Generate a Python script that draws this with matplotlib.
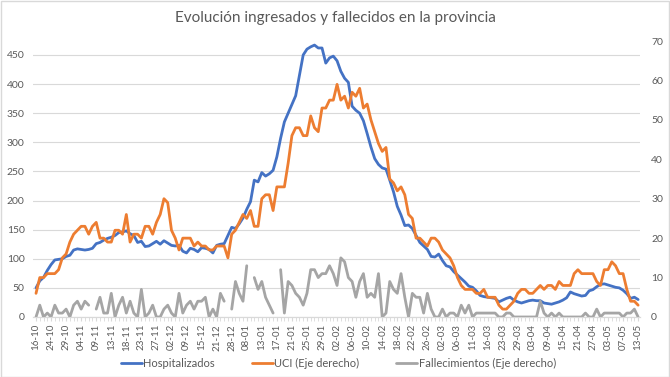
import matplotlib.pyplot as plt
import numpy as np
from matplotlib.patches import Rectangle

# Tick labels shown on the category axis (every 4th category)
tick_labels = [
  "16-10", "24-10", "29-10", "04-11", "09-11", "13-11", "18-11", "23-11",
  "27-11", "02-12", "09-12", "15-12", "21-12", "28-12", "08-01", "13-01",
  "17-01", "21-01", "25-01", "29-01", "02-02", "06-02", "10-02", "14-02",
  "18-02", "22-02", "26-02", "02-03", "06-03", "11-03", "16-03", "23-03",
  "29-03", "03-04", "09-04", "15-04", "21-04", "27-04", "03-05", "07-05",
  "13-05",
]

# Hospitalizados (left axis)
hospitalizados = [
  50, 62, 68, 80, 90, 98, 99, 100, 104, 106,
  115, 117, 116, 115, 116, 118, 126, 128, 132, 135,
  137, 140, 145, 146, 148, 143, 140, 128, 130, 121,
  122, 126, 130, 125, 131, 127, 123, 122, 123, 113,
  110, 118, 116, 112, 119, 118, 116, 110, 123, 125,
  126, 140, 154, 152, 160, 170, 185, 198, 235, 232,
  248, 242, 246, 252, 275, 307, 335, 350, 365, 380,
  415, 450, 460, 464, 467, 462, 462, 436, 445, 448,
  440, 422, 410, 403, 362, 355, 350, 337, 315, 292,
  272, 262, 256, 254, 235, 215, 190, 175, 157, 158,
  152, 140, 128, 122, 116, 104, 103, 108, 97, 88,
  86, 78, 72, 66, 60, 53, 51, 45, 37, 35,
  34, 33, 32, 26, 29, 32, 34, 29, 26, 24,
  26, 28, 29, 28, 28, 24, 23, 22, 24, 26,
  29, 33, 43, 40, 38, 36, 37, 45, 47, 52,
  56, 57, 55, 53, 51, 50, 46, 40, 32, 34,
  30,
]

# UCI (right axis)
uci = [
  6, 10, 10, 11, 11, 11, 12, 15, 16, 19,
  21, 22, 23, 23, 21, 23, 24, 20, 20, 19,
  19, 22, 22, 21, 26, 19, 21, 21, 20, 23,
  23, 21, 24, 26, 30, 29, 22, 20, 17, 20,
  20, 20, 18, 19, 18, 18, 17, 17, 18, 18,
  18, 15, 21, 22, 24, 26, 25, 27, 23, 23,
  30, 31, 31, 27, 33, 33, 33, 39, 46, 48,
  48, 46, 46, 51, 48, 47, 53, 53, 55, 55,
  59, 55, 56, 53, 57, 56, 58, 53, 54, 50,
  47, 44, 42, 43, 35, 34, 32, 33, 31, 26,
  25, 20, 20, 19, 18, 20, 20, 19, 17, 16,
  15, 13, 10, 8, 7, 7, 7, 6, 6, 7,
  5, 5, 5, 3, 2, 2, 3, 4, 6, 7,
  7, 6, 6, 7, 8, 7, 8, 8, 7, 9,
  8, 8, 8, 11, 12, 11, 11, 11, 11, 9,
  8, 12, 12, 14, 13, 11, 11, 7, 4, 4,
  3,
]

# Fallecimientos (right axis), gaps where no value was reported
fallecimientos = [
  0, 3, 0, 1, 0, 3, 1, 1, 2, 0,
  3, 4, 2, 4, 3, np.nan, 2, 5, 1, 1,
  6, 0, 3, 5, 1, 4, 1, 0, 7, 0,
  1, 3, 0, 0, 2, 3, 1, 0, 6, 1,
  3, 4, 2, 4, 4, 5, 0, 2, 0, 6,
  4, np.nan, 2, 9, 6, 4, 13, np.nan, 10, 7,
  9, 5, 3, 1, np.nan, 12, 1, 9, 8, 6,
  5, 3, 6, 12, 12, 10, 11, 11, 13, 11,
  8, 15, 14, 10, 9, 5, 9, 11, 5, 6,
  5, 11, 0, 1, 9, 7, 6, 11, 5, 0,
  6, 5, 5, 1, 6, 2, 0, 0, 2, 0,
  1, 1, 0, 3, 1, 3, 0, 1, 1, 1,
  1, 1, 1, 0, 0, 1, 1, 0, 0, 0,
  0, 0, 0, 0, 4, 1, 0, 1, 0, 1,
  0, 0, 0, 0, 0, 0, 1, 0, 0, 2,
  0, 1, 1, 1, 1, 1, 0, 1, 1, 2,
  0,
]

# Define colors
blue = "#4472C4"
orange = "#ED7D31"
grey = "#A5A5A5"
text_color = "#595959"
grid_color = "#D9D9D9"

plt.rcParams["font.family"] = ["Lato", "DejaVu Sans"]

x = np.arange(len(hospitalizados))

fig = plt.figure(figsize=(6.7, 3.77), dpi=100)
ax = fig.add_axes([33 / 670, 60 / 377, 607 / 670, 276 / 377])
ax2 = ax.twinx()

# Primary axis: hospitalised
ax.plot(x, hospitalizados, color=blue, lw=2.0, label="Hospitalizados", solid_capstyle="round")
ax.set_ylim(0, 474)
ax.set_yticks(np.arange(0, 451, 50))
ax.grid(axis="y", color=grid_color, lw=0.8)
ax.set_axisbelow(True)

# Secondary axis: ICU and deaths
ax2.plot(x, uci, color=orange, lw=2.0, label="UCI (Eje derecho)", solid_capstyle="round")
ax2.plot(x, fallecimientos, color=grey, lw=2.0, label="Fallecimientos (Eje derecho)", solid_capstyle="round")
ax2.set_ylim(0, 70)
ax2.set_yticks(np.arange(0, 71, 10))

ax.set_xlim(-0.8, len(x) - 0.5)
ax.set_xticks(x[::4])
ax.set_xticklabels(tick_labels, rotation=90)
ax.set_xticks(x, minor=True)

for a in (ax, ax2):
  for side in ("top", "left", "right"):
    a.spines[side].set_visible(False)
  a.spines["bottom"].set_color(grid_color)

ax.tick_params(axis="y", length=0, labelsize=7.5, colors=text_color, pad=6)
ax2.tick_params(axis="y", length=0, labelsize=7.5, colors=text_color, pad=8)
ax.tick_params(axis="x", which="major", length=3, color=grid_color, labelsize=7, labelcolor=text_color, pad=2)
ax.tick_params(axis="x", which="minor", length=3, color=grid_color)

fig.suptitle("Evolución ingresados y fallecidos en la provincia", y=0.972, fontsize=11, color=text_color)

# Legend along the bottom
handles = ax.get_lines() + ax2.get_lines()
fig.legend(handles, [h.get_label() for h in handles], loc="lower center",
           bbox_to_anchor=(0.505, -0.005), ncol=3, frameon=False, fontsize=8,
           labelcolor=text_color, handlelength=1.9, handletextpad=0.15,
           columnspacing=3.3)

# Chart border
fig.patches.append(Rectangle((0.001, 0.001), 0.997, 0.997, transform=fig.transFigure,
                             fill=False, edgecolor=grid_color, lw=1))

fig.savefig("out.png", dpi=100)
